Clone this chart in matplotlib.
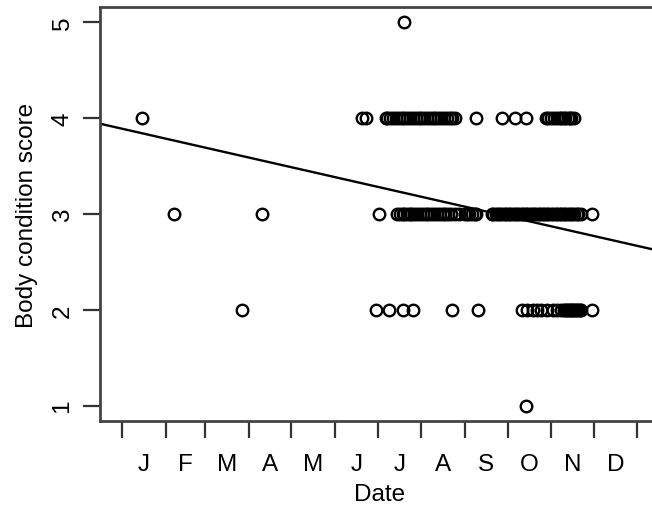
import numpy as np
import matplotlib.pyplot as plt

plt.rcParams['font.family'] = ['Liberation Sans', 'DejaVu Sans']

# day of year (0 = 1 Jan) for each animal, grouped by body condition score
days_score1 = [286]
days_score2 = [85, 180, 189, 199, 206, 234, 252, 283, 287, 291, 294, 297, 301,
               305, 308, 311, 313, 314, 315, 316, 317, 318, 319, 320, 321, 322,
               323, 324, 325, 333]
days_score3 = [37, 99, 182, 195, 197, 199, 200, 202, 204, 205, 207, 209, 211,
               213, 215, 217, 219, 221, 223, 225, 227, 229, 231, 233, 236, 239,
               243, 244, 246, 248, 250, 251,
               262, 263, 265, 266, 268, 269, 271, 272, 274, 275, 277, 278, 280,
               281, 283, 284, 286, 287, 289, 290, 292, 293, 295, 296, 298, 299,
               301, 302, 304, 305, 307, 308, 310, 311, 313, 314, 316, 317, 319,
               320, 322, 323, 325, 333]
days_score4 = [14, 170, 173, 187, 188, 190, 192, 194, 196, 198, 200, 202, 204,
               206, 208, 210, 212, 214, 216, 218, 220, 222, 224, 226, 228, 230,
               232, 234, 236, 251, 269, 278, 286, 300, 302, 304, 306, 308, 310,
               311, 313, 314, 316, 317, 318, 320]
days_score5 = [200]

# linear trend of score against date
trend_intercept = 3.89
trend_slope = -0.00335

month_starts = [0, 31, 59, 90, 120, 151, 181, 212, 243, 273, 304, 334, 365]
month_labels = ['J', 'F', 'M', 'A', 'M', 'J', 'J', 'A', 'S', 'O', 'N', 'D']

days = days_score1 + days_score2 + days_score3 + days_score4 + days_score5
scores = ([1] * len(days_score1) + [2] * len(days_score2) + [3] * len(days_score3)
          + [4] * len(days_score4) + [5] * len(days_score5))

fig = plt.figure(figsize=(6.52, 5.10), dpi=100)
ax = fig.add_axes([100/652, 88/510, 560/652, 414/510])

ax.plot(days, scores, 'o', mfc='none', mec='black', ms=8.3, mew=1.7, ls='none')

xlim = (-15.6, 381)
xx = np.array(xlim)
ax.plot(xx, trend_intercept + trend_slope*xx, color='black', lw=1.7)

ax.set_xlim(*xlim)
ax.set_ylim(0.84, 5.16)

ms = np.array(month_starts)
mid = (ms[:-1] + ms[1:]) / 2
ax.set_xticks(ms, labels=[''] * len(ms))
ax.set_xticks(mid, labels=month_labels, minor=True)
ax.tick_params(axis='x', which='minor', length=0, pad=23, labelsize=17.5)
ax.tick_params(axis='x', which='major', length=12, width=1.6, color='#333333')

ax.set_yticks([1, 2, 3, 4, 5])
ax.tick_params(axis='y', length=12, width=1.6, color='#333333', pad=7, labelsize=17.5)
for lab in ax.get_yticklabels():
    lab.set_rotation(90)
    lab.set_va('center')

for sp in ax.spines.values():
    sp.set_linewidth(2)
    sp.set_color('#444444')

ax.set_xlabel('Date', fontsize=17.5, labelpad=6)
ax.set_ylabel('Body condition score', fontsize=17.5, labelpad=10)

fig.savefig('out.png', dpi=100)
